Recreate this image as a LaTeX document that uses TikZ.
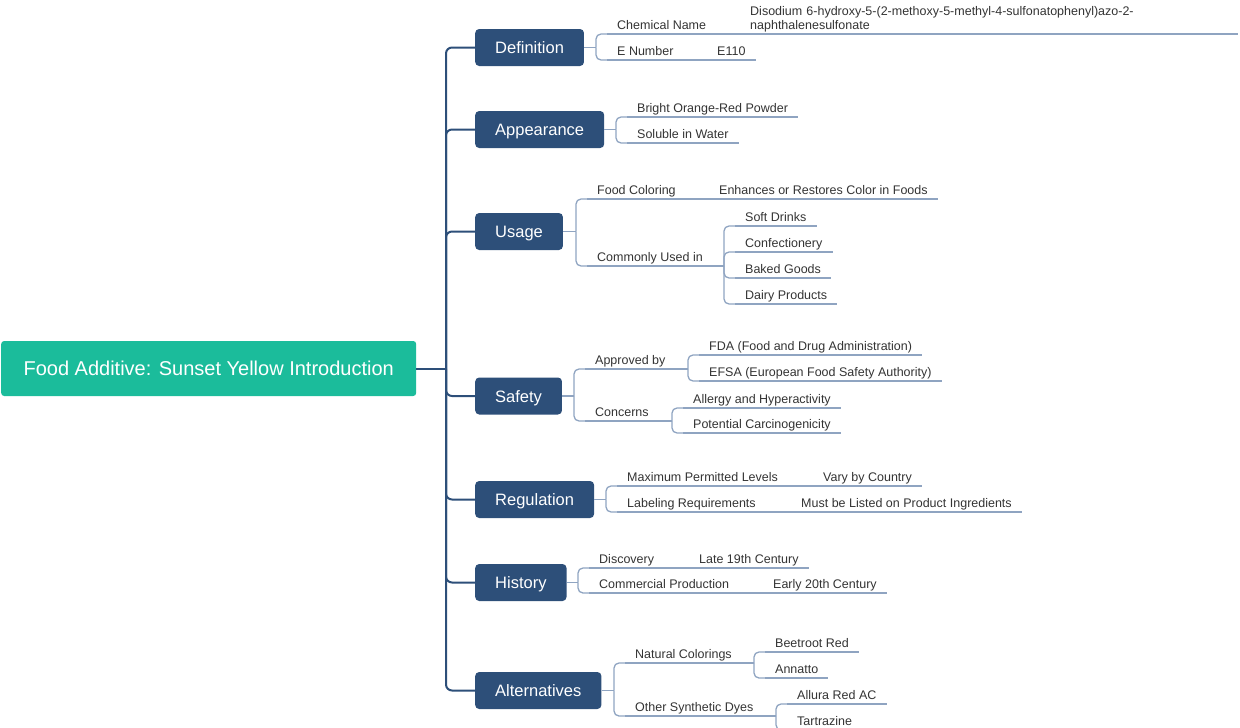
\documentclass[tikz,border=0pt]{standalone}
\usepackage{fontspec}
\setmainfont{Liberation Sans}
\usetikzlibrary{calc}
\definecolor{rootgreen}{HTML}{1BBC9B}
\definecolor{boxblue}{HTML}{2D4F79}
\definecolor{twigblue}{HTML}{8FA4C1}
\definecolor{leafgray}{HTML}{333333}
\tikzset{
  root/.style={fill=rootgreen, text=white, rounded corners=3, anchor=west, minimum width=415, minimum height=55, font=\fontsize{20}{24}\selectfont},
  topic/.style={fill=boxblue, text=white, rounded corners=4, anchor=west, inner xsep=20, text height=12, text depth=0, minimum height=37, font=\fontsize{16.5}{20}\selectfont},
  leaf/.style={anchor=south west, inner xsep=10, inner ysep=2, text height=9, text depth=2, text=leafgray, font=\fontsize{12.5}{14}\selectfont, append after command={(\tikzlastnode.south west) edge [twig] (\tikzlastnode.south east)}},
  trunk/.style={draw=boxblue, line width=2},
  twig/.style={draw=twigblue, line width=1.3},
}
\begin{document}
\begin{tikzpicture}[x=1pt, y=-1pt]
	\useasboundingbox (0, 0) rectangle (1240, 728);

	\node [root] at (1, 368.5) (root) {Food Additive: Sunset Yellow Introduction};
	\coordinate (hub) at (446, 368.5);

	\node [topic] at (475, 47.5) (def) {Definition};
	\node [topic] at (475, 129.5) (app) {Appearance};
	\node [topic] at (475, 231.5) (use) {Usage};
	\node [topic] at (475, 396) (saf) {Safety};
	\node [topic] at (475, 499.5) (reg) {Regulation};
	\node [topic] at (475, 582.5) (his) {History};
	\node [topic] at (475, 690.5) (alt) {Alternatives};

	\node [leaf] at (607, 34) (chem) {Chemical Name};
	\node [leaf, text width=478, align=left, text depth=16] at (740, 34) (chemval) {Disodium 6-hydroxy-5-(2-methoxy-5-methyl-4-sulfonatophenyl)azo-2-\\naphthalenesulfonate};
	\node [leaf] at (607, 60) (enum) {E Number};
	\node [leaf] at (707, 60) (enumval) {E110};

	\node [leaf] at (627, 117) (bright) {Bright Orange-Red Powder};
	\node [leaf] at (627, 143) (soluble) {Soluble in Water};

	\node [leaf] at (587, 199) (food) {Food Coloring};
	\node [leaf] at (709, 199) (enhances) {Enhances or Restores Color in Foods};
	\node [leaf] at (587, 266) (common) {Commonly Used in};
	\node [leaf] at (735, 226) (soft) {Soft Drinks};
	\node [leaf] at (735, 252) (conf) {Confectionery};
	\node [leaf] at (735, 278) (baked) {Baked Goods};
	\node [leaf] at (735, 304) (dairy) {Dairy Products};

	\node [leaf] at (585, 369) (approved) {Approved by};
	\node [leaf] at (699, 355) (fda) {FDA (Food and Drug Administration)};
	\node [leaf] at (699, 381) (efsa) {EFSA (European Food Safety Authority)};
	\node [leaf] at (585, 421) (concerns) {Concerns};
	\node [leaf] at (683, 408) (allergy) {Allergy and Hyperactivity};
	\node [leaf] at (683, 433) (potential) {Potential Carcinogenicity};

	\node [leaf] at (617, 486) (maxlev) {Maximum Permitted Levels};
	\node [leaf] at (813, 486) (vary) {Vary by Country};
	\node [leaf] at (617, 512) (labeling) {Labeling Requirements};
	\node [leaf] at (791, 512) (listed) {Must be Listed on Product Ingredients};

	\node [leaf] at (589, 568) (discovery) {Discovery};
	\node [leaf] at (689, 568) (late) {Late 19th Century};
	\node [leaf] at (589, 593) (commercial) {Commercial Production};
	\node [leaf] at (763, 593) (early) {Early 20th Century};

	\node [leaf] at (625, 663) (natural) {Natural Colorings};
	\node [leaf] at (765, 652) (beetroot) {Beetroot Red};
	\node [leaf] at (765, 678) (annatto) {Annatto};
	\node [leaf] at (625, 716) (synthetic) {Other Synthetic Dyes};
	\node [leaf] at (787, 704) (allura) {Allura Red AC};
	\node [leaf] at (787, 730) (tartrazine) {Tartrazine};

	\draw [trunk] (root.east) -- (hub);
	\foreach \t in {def, app, use, saf, reg, his, alt}
		\draw [trunk, rounded corners=6] (hub) |- (\t.west);

	\foreach \p/\c in {def/chem, def/enum, app/bright, app/soluble, use/food, use/common, saf/approved, saf/concerns, reg/maxlev, reg/labeling, his/discovery, his/commercial, alt/natural, alt/synthetic} {
		\draw [twig] (\p.east) -- ($(\p.east -| \c.south west)+(-11, 0)$) coordinate (fork);
		\draw [twig, rounded corners=5] (fork) |- (\c.south west);
	}
	\foreach \p/\c in {common/soft, common/conf, common/baked, common/dairy, approved/fda, approved/efsa, concerns/allergy, concerns/potential, natural/beetroot, natural/annatto, synthetic/allura, synthetic/tartrazine} {
		\draw [twig] (\p.south east) -- ($(\p.south east -| \c.south west)+(-11, 0)$) coordinate (fork);
		\draw [twig, rounded corners=5] (fork) |- (\c.south west);
	}
	\foreach \p/\c in {chem/chemval, enum/enumval, food/enhances, maxlev/vary, labeling/listed, discovery/late, commercial/early}
		\draw [twig] (\p.south east) -- (\c.south west);
\end{tikzpicture}
\end{document}
